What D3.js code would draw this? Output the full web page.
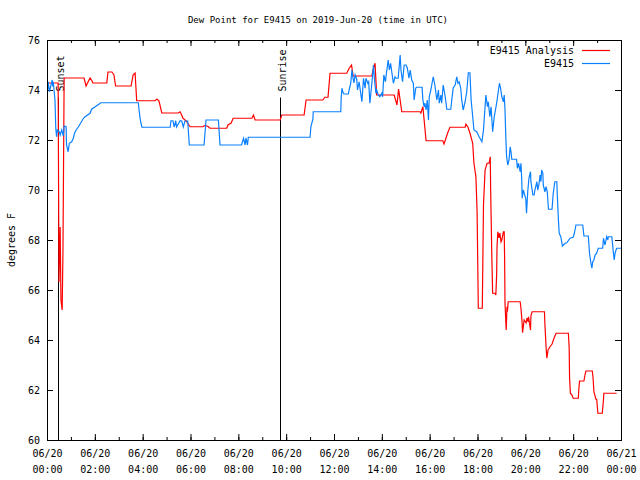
<!DOCTYPE html>
<html>
<head>
<meta charset="utf-8">
<script src="https://cdn.jsdelivr.net/npm/d3@7"></script>
<style>
  body { margin: 0; background: #fff; }
  text { font-family: "DejaVu Sans Mono", monospace; fill: #000; }
</style>
</head>
<body>
<svg id="chart" width="640" height="480"></svg>
<script>
'use strict';

const titleText = 'Dew Point for E9415 on 2019-Jun-20 (time in UTC)';
const yLabel = 'degrees F';
const seriesNames = ['E9415 Analysis', 'E9415'];
const seriesColors = ['#ff0000', '#0a80ff'];
const yTicks = [60, 62, 64, 66, 68, 70, 72, 74, 76];
const dayStart = Date.UTC(2019, 5, 20);

// sun events, minutes after 00:00 UTC
const sunLabels = ['Sunset', 'Sunrise'];
const sunMinutes = [28, 584];
const sunTopValue = 73.7;

// analysis series (minutes after 00:00 UTC, deg F)
const analysisMinutes = [
  0, 28, 30, 33, 35, 38, 40, 43, 93, 98, 103, 108, 113, 115, 150, 153, 163, 168, 172, 211,
  216, 221, 225, 271, 276, 281, 288, 329, 334, 339, 341, 349, 359, 391, 396, 404, 409, 451, 454, 462,
  467, 514, 518, 522, 585, 589, 645, 650, 692, 697, 705, 710, 752, 758, 764, 768, 815, 818, 823, 827,
  871, 878, 882, 890, 936, 938, 943, 951, 993, 996, 1001, 1006, 1011, 1049, 1051, 1056, 1061, 1068, 1071, 1076,
  1079, 1081, 1082, 1092, 1093, 1095, 1099, 1104, 1109, 1112, 1113, 1116, 1118, 1124, 1126, 1128, 1129, 1131, 1134, 1136,
  1139, 1141, 1145, 1147, 1148, 1149, 1152, 1154, 1155, 1157, 1187, 1189, 1192, 1193, 1197, 1202, 1204, 1207, 1208, 1213,
  1214, 1217, 1248, 1249, 1252, 1254, 1257, 1262, 1267, 1272, 1277, 1308, 1310, 1311, 1313, 1317, 1320, 1333, 1334, 1336,
  1347, 1350, 1352, 1368, 1370, 1372, 1377, 1379, 1382, 1393, 1396, 1397, 1429,
];
const analysisDewpt = [
  74.28, 74.28, 66.32, 68.52, 65.6, 65.2, 67.48, 74.48, 74.48, 74.16, 74.32, 74.48, 74.36, 74.28, 74.28, 74.72, 74.72, 74.6, 74.16, 74.16,
  74.6, 74.68, 73.57, 73.57, 73.64, 73.56, 73.08, 73.08, 73.13, 72.96, 72.87, 72.76, 72.53, 72.53, 72.58, 72.54, 72.47, 72.47, 72.6, 72.68,
  72.87, 72.87, 73.0, 72.8, 72.8, 73.0, 73.0, 73.6, 73.6, 73.71, 73.71, 74.67, 74.67, 74.87, 75.0, 74.56, 74.56, 74.8, 75.07, 73.8,
  73.8, 73.4, 74.04, 73.13, 73.13, 73.08, 73.33, 71.97, 71.97, 71.84, 72.08, 72.32, 72.51, 72.51, 72.63, 72.52, 72.28, 71.87, 71.08, 70.53,
  69.13, 66.6, 65.27, 65.27, 66.6, 69.4, 70.8, 71.07, 71.07, 71.33, 70.0, 67.28, 65.87, 65.87, 65.8, 66.6, 67.73, 68.33, 68.08, 68.28,
  67.93, 68.0, 68.33, 68.33, 67.33, 65.47, 64.4, 65.33, 65.13, 65.53, 65.53, 65.28, 64.68, 64.29, 64.8, 64.68, 64.88, 64.73, 64.93, 64.4,
  64.96, 65.13, 65.13, 64.67, 63.73, 63.27, 63.6, 63.73, 63.84, 64.07, 64.27, 64.27, 63.67, 62.47, 61.87, 61.8, 61.67, 61.67, 62.0, 62.36,
  62.36, 62.63, 62.76, 62.76, 62.47, 61.93, 61.63, 61.63, 61.07, 61.07, 61.6, 61.87, 61.87,
];

// observed series
const obsMinutes = [
  0, 3, 6, 10, 13, 14, 16, 20, 22, 24, 26, 31, 33, 37, 41, 43, 48, 49, 53, 56,
  62, 66, 69, 73, 79, 90, 94, 108, 112, 131, 135, 229, 231, 233, 235, 238, 309, 311, 316, 319,
  323, 325, 334, 338, 342, 346, 353, 357, 394, 399, 430, 434, 488, 493, 497, 499, 503, 505, 660, 662,
  667, 668, 737, 738, 740, 742, 745, 756, 758, 762, 765, 767, 770, 773, 777, 779, 783, 787, 790, 794,
  798, 800, 805, 807, 810, 815, 819, 821, 825, 827, 831, 835, 840, 842, 845, 849, 852, 856, 859, 862,
  866, 869, 873, 876, 881, 886, 888, 892, 896, 901, 904, 908, 911, 915, 919, 921, 925, 927, 941, 943,
  946, 948, 951, 954, 957, 959, 963, 966, 969, 973, 978, 982, 984, 988, 990, 994, 999, 1003, 1013, 1015,
  1019, 1024, 1028, 1031, 1034, 1038, 1040, 1044, 1049, 1053, 1057, 1061, 1064, 1068, 1071, 1078, 1084, 1091, 1095, 1101,
  1105, 1107, 1111, 1114, 1118, 1122, 1128, 1135, 1138, 1141, 1145, 1147, 1149, 1151, 1153, 1156, 1159, 1162, 1164, 1166,
  1178, 1180, 1183, 1187, 1189, 1191, 1192, 1195, 1197, 1201, 1203, 1206, 1209, 1213, 1214, 1219, 1222, 1224, 1229, 1231,
  1234, 1237, 1239, 1241, 1244, 1245, 1249, 1252, 1255, 1258, 1267, 1270, 1274, 1279, 1280, 1283, 1285, 1289, 1293, 1300,
  1304, 1312, 1320, 1323, 1327, 1344, 1347, 1358, 1361, 1364, 1367, 1369, 1372, 1375, 1379, 1383, 1394, 1396, 1400, 1404,
  1407, 1408, 1417, 1421, 1423, 1425, 1429, 1440,
];
const obsDewpt = [
  73.73, 74.33, 73.93, 74.2, 74.4, 74.2, 74.27, 73.6, 72.48, 72.13, 72.4, 72.33, 72.2, 72.4, 72.16, 72.56, 72.53, 71.8, 71.53, 71.87,
  71.93, 72.07, 72.27, 72.4, 72.53, 72.83, 72.91, 73.07, 73.23, 73.44, 73.49, 73.49, 73.2, 72.93, 72.73, 72.51, 72.51, 72.77, 72.77, 72.52,
  72.77, 72.52, 72.77, 72.76, 72.52, 72.76, 72.76, 71.8, 71.8, 72.8, 72.8, 71.8, 71.8, 72.07, 71.8, 72.08, 71.8, 72.11, 72.11, 72.53,
  72.83, 73.13, 73.13, 73.67, 74.07, 73.93, 73.84, 73.84, 74.0, 74.27, 74.8, 74.53, 74.28, 74.6, 74.43, 74.0, 74.33, 73.87, 73.53, 74.47,
  74.07, 74.47, 74.27, 74.33, 73.47, 74.27, 75.0, 74.53, 73.87, 74.0, 73.8, 73.73, 73.87, 73.73, 74.6, 74.33, 74.73, 75.2, 74.8, 75.07,
  74.6, 74.27, 74.53, 74.47, 74.47, 75.4, 74.8, 74.33, 75.0, 75.0, 74.87, 74.47, 74.8, 74.4, 74.27, 73.6, 74.07, 74.11, 74.11, 73.6,
  73.33, 73.47, 73.2, 73.6, 72.8, 73.73, 74.0, 74.27, 74.53, 74.2, 73.6, 74.0, 73.47, 73.8, 73.47, 74.2, 73.73, 73.23, 73.23, 73.53,
  74.08, 74.2, 74.53, 74.27, 74.33, 74.07, 73.67, 73.2, 73.53, 73.93, 74.69, 74.69, 73.6, 72.93, 72.4, 72.33, 72.13, 71.93, 72.4, 73.8,
  73.33, 73.53, 72.93, 73.33, 72.33, 72.93, 73.47, 74.27, 74.07, 73.73, 73.53, 73.8, 73.2, 72.13, 71.33, 71.0, 71.2, 71.73, 71.53, 71.23,
  71.23, 70.87, 71.07, 70.73, 71.07, 70.4, 69.67, 70.0, 69.87, 69.67, 69.07, 69.93, 70.47, 70.73, 70.33, 69.8, 69.8, 70.0, 70.33, 70.0,
  70.2, 70.6, 70.33, 70.8, 70.67, 70.2, 69.93, 70.13, 69.93, 69.23, 69.23, 69.87, 70.33, 70.33, 69.87, 68.8, 68.27, 68.13, 67.76, 67.87,
  67.89, 68.07, 68.11, 68.27, 68.6, 68.6, 68.16, 68.16, 67.47, 67.13, 66.87, 67.13, 67.2, 67.4, 67.47, 67.67, 67.67, 68.07, 67.8, 68.13,
  68.0, 68.13, 68.13, 67.47, 67.2, 67.47, 67.67, 67.67,
];

const toDate = (m) => new Date(dayStart + m * 60000);
const toPoints = (mins, vals) => mins.map((m, i) => ({ t: toDate(m), v: vals[i] }));

const series = [
  toPoints(analysisMinutes, analysisDewpt),
  toPoints(obsMinutes, obsDewpt),
];

const margin = { top: 40, right: 19, bottom: 40, left: 47 };
const svg = d3.select('#chart');
const width = +svg.attr('width') - margin.left - margin.right;
const height = +svg.attr('height') - margin.top - margin.bottom;

const x = d3.scaleUtc()
  .domain([toDate(0), toDate(1440)])
  .range([0, width]);
const y = d3.scaleLinear()
  .domain([60, 76])
  .range([height, 0]);

svg.append('text')
  .attr('x', 318)
  .attr('y', 23)
  .attr('text-anchor', 'middle')
  .style('font-size', '9px')
  .text(titleText);

svg.append('text')
  .attr('transform', `translate(15,${margin.top + height / 2}) rotate(-90)`)
  .attr('text-anchor', 'middle')
  .style('font-size', '10px')
  .text(yLabel);

const g = svg.append('g')
  .attr('transform', `translate(${margin.left},${margin.top})`);

g.append('clipPath')
  .attr('id', 'plot-clip')
  .append('rect')
  .attr('width', width)
  .attr('height', height);

const hourTicks = d3.utcHour.every(1).range(toDate(0), toDate(1441));
const majorTicks = d3.utcHour.every(2).range(toDate(0), toDate(1441));
const fmtDay = d3.utcFormat('%m/%d');
const fmtTime = d3.utcFormat('%H:%M');

const styleAxis = (sel) => {
  sel.select('.domain').remove();
  sel.selectAll('line').attr('stroke', '#000');
  sel.selectAll('text').style('font-size', '10px').attr('fill', '#000');
};

// minor hour ticks, bottom and top
g.append('g')
  .attr('transform', `translate(0,${height})`)
  .call(d3.axisBottom(x).tickValues(hourTicks).tickSize(-3).tickFormat(''))
  .call(styleAxis);
g.append('g')
  .call(d3.axisTop(x).tickValues(hourTicks).tickSize(-3).tickFormat(''))
  .call(styleAxis);

const xAxis = g.append('g')
  .attr('transform', `translate(0,${height})`)
  .call(d3.axisBottom(x).tickValues(majorTicks).tickSize(-6).tickPadding(10))
  .call(styleAxis);
xAxis.selectAll('.tick text').each(function (d) {
  const t = d3.select(this);
  t.text(null);
  t.append('tspan').attr('x', 0).text(fmtDay(d));
  t.append('tspan').attr('x', 0).attr('dy', '1.6em').text(fmtTime(d));
});

g.append('g')
  .call(d3.axisTop(x).tickValues(majorTicks).tickSize(-6).tickFormat(''))
  .call(styleAxis);

g.append('g')
  .call(d3.axisLeft(y).tickValues(yTicks).tickSize(-6).tickPadding(7))
  .call(styleAxis);
g.append('g')
  .attr('transform', `translate(${width},0)`)
  .call(d3.axisRight(y).tickValues(yTicks).tickSize(-6).tickFormat(''))
  .call(styleAxis);

// sunset / sunrise markers
sunMinutes.forEach((m, i) => {
  const sx = Math.round(x(toDate(m))) + 0.5;
  g.append('line')
    .attr('x1', sx).attr('x2', sx)
    .attr('y1', y(60)).attr('y2', y(sunTopValue))
    .attr('stroke', '#000')
    .attr('stroke-width', 1);
  g.append('text')
    .attr('transform', `translate(${sx + 5},${y(sunTopValue) - 6}) rotate(-90)`)
    .style('font-size', '10px')
    .text(sunLabels[i]);
});

const line = d3.line()
  .x((d) => x(d.t))
  .y((d) => y(d.v));

const lines = g.append('g').attr('clip-path', 'url(#plot-clip)');
series.forEach((pts, i) => {
  lines.append('path')
    .datum(pts)
    .attr('fill', 'none')
    .attr('stroke', seriesColors[i])
    .attr('stroke-width', 1.2)
    .attr('d', line);
});

// frame
g.append('rect')
  .attr('x', 0.5)
  .attr('y', 0.5)
  .attr('width', width)
  .attr('height', height)
  .attr('fill', 'none')
  .attr('stroke', '#000');

// legend
const legend = svg.append('g')
  .attr('transform', `translate(${margin.left + width - 47},${margin.top + 10})`);
seriesNames.forEach((name, i) => {
  const row = legend.append('g').attr('transform', `translate(0,${i * 13})`);
  row.append('text')
    .attr('y', 3.5)
    .attr('text-anchor', 'end')
    .style('font-size', '10px')
    .text(name);
  row.append('line')
    .attr('x1', 8).attr('x2', 36)
    .attr('y1', 0.5).attr('y2', 0.5)
    .attr('stroke', seriesColors[i])
    .attr('stroke-width', 1.2);
});
</script>
</body>
</html>
